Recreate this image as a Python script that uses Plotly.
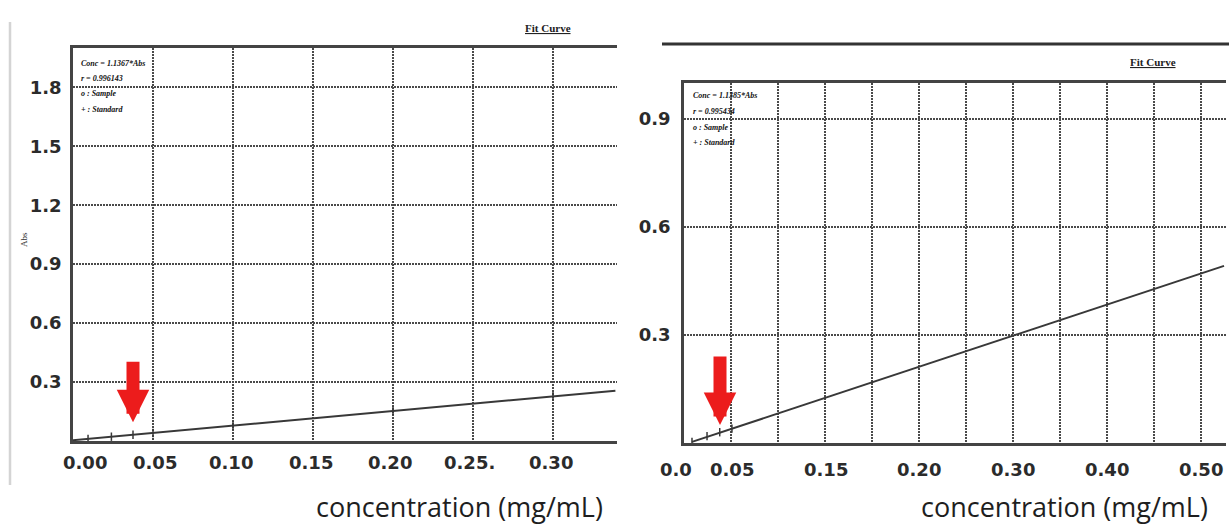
import plotly.graph_objects as go

W, H = 1229, 525

# ---------------- data: left chart ----------------
left_std_x = [0.0094, 0.024, 0.0375, 0.05, 0.10, 0.20, 0.30]
left_std_y = [0.011, 0.022, 0.032, 0.041, 0.079, 0.154, 0.228]
left_fit_x = [0.0, 0.339]
left_fit_y = [0.004, 0.256]
left_xgrid = [0.05, 0.10, 0.15, 0.20, 0.25, 0.30]
left_yticks = [0.3, 0.6, 0.9, 1.2, 1.5, 1.8]
left_ytext = ["0.3", "0.6", "0.9", "1.2", "1.5", "1.8"]
left_xlabel_pos = [0.0075, 0.0513, 0.0988, 0.149, 0.198, 0.248, 0.299]
left_xlabel_text = ["0.00", "0.05", "0.10", "0.15", "0.20", "0.25.", "0.30"]
left_arrow_tip = [0.0375, 0.096]
left_legend = ["Conc = 1.1367*Abs", "r = 0.996143", "o : Sample", "+ : Standard"]

# ---------------- data: right chart ----------------
right_std_x = [0.0085, 0.0245, 0.038, 0.051]
right_std_y = [0.003, 0.019, 0.030, 0.040]
right_fit_x = [0.0085, 0.5745]
right_fit_y = [0.003, 0.492]
right_xgrid = [0.05, 0.10, 0.15, 0.20, 0.25, 0.30, 0.35, 0.40, 0.45, 0.50, 0.55]
right_yticks = [0.3, 0.6, 0.9]
right_ytext = ["0.3", "0.6", "0.9"]
right_xlabel_pos = [-0.0085, 0.051, 0.151, 0.250, 0.350, 0.450, 0.550]
right_xlabel_text = ["0.0", "0.05", "0.15", "0.20", "0.30", "0.40", "0.50"]
right_arrow_tip = [0.0383, 0.05]
right_legend = ["Conc = 1.1385*Abs", "r = 0.995434", "o : Sample", "+ : Standard"]

x_title = "concentration (mg/mL)"

LINE = "#383838"
GRID = "#4a4a4a"
TICKFONT = dict(family="DejaVu Sans", size=18, color="#2b2b2b", weight="bold")

# axis geometry (domains in paper fraction, ranges in data units)
LX_DOM = [73 / W, 617 / W]
LX_RNG = [0, 544 / 1600]
RX_DOM = [684 / W, 1226 / W]
RX_RNG = [0, 542 / 940]

fig = go.Figure()

for xs, ys, fx, fy, xa, ya in [
    (left_std_x, left_std_y, left_fit_x, left_fit_y, "x", "y"),
    (right_std_x, right_std_y, right_fit_x, right_fit_y, "x2", "y2"),
]:
    fig.add_trace(go.Scatter(x=fx, y=fy, mode="lines", xaxis=xa, yaxis=ya,
                             line=dict(color=LINE, width=2), showlegend=False))
    fig.add_trace(go.Scatter(x=xs, y=ys, mode="markers", xaxis=xa, yaxis=ya,
                             marker=dict(symbol="line-ns", size=6,
                                         line=dict(color=LINE, width=1.5)),
                             showlegend=False))


def xax(domain, rng, grid, anchor):
    return dict(domain=domain, range=rng, tickvals=grid, showticklabels=False,
                ticks="", showgrid=True, gridcolor=GRID, gridwidth=1.6,
                griddash="2px,1px", showline=True, linecolor="#444",
                linewidth=2.5, mirror=True, zeroline=False, anchor=anchor,
                fixedrange=True)


def yax(domain, rng, vals, text, anchor, standoff):
    return dict(domain=domain, range=rng, tickvals=vals, ticktext=text,
                tickfont=TICKFONT, ticks="", ticklabelstandoff=standoff,
                showgrid=True, gridcolor=GRID, gridwidth=1.6,
                griddash="2px,1px", showline=True, linecolor="#444",
                linewidth=2.5, mirror=False, zeroline=False, anchor=anchor,
                fixedrange=True)


fig.update_layout(
    width=W, height=H,
    margin=dict(l=0, r=0, t=0, b=0),
    paper_bgcolor="white", plot_bgcolor="white",
    xaxis=xax(LX_DOM, LX_RNG, left_xgrid, "y"),
    yaxis=yax([84 / H, 477 / H], [0, 2.0], left_yticks, left_ytext, "x", 5),
    xaxis2=xax(RX_DOM, RX_RNG, right_xgrid, "y2"),
    yaxis2=yax([82 / H, 442 / H], [0, 1.0], right_yticks, right_ytext, "x2", 7),
)


def to_paper(v, dom, rng):
    return dom[0] + (v - rng[0]) / (rng[1] - rng[0]) * (dom[1] - dom[0])


ann = []
# x tick labels (placed along each axis, using the axis' own scale)
for pos, txt in zip(left_xlabel_pos, left_xlabel_text):
    ann.append(dict(x=to_paper(pos, LX_DOM, LX_RNG), y=(H - 462) / H, xref="paper",
                    yref="paper", text=txt, showarrow=False, font=TICKFONT,
                    xanchor="center", yanchor="middle"))
for pos, txt in zip(right_xlabel_pos, right_xlabel_text):
    ann.append(dict(x=to_paper(pos, RX_DOM, RX_RNG), y=(H - 469) / H, xref="paper",
                    yref="paper", text=txt, showarrow=False, font=TICKFONT,
                    xanchor="center", yanchor="middle"))

# x titles
for cx in [459, 1064]:
    ann.append(dict(x=cx / W, y=(H - 506) / H, xref="paper", yref="paper",
                    text=x_title, showarrow=False,
                    font=dict(family="Open Sans", size=27, color="#1e1e1e"),
                    xanchor="center", yanchor="middle"))

# Fit Curve labels
for cx, cy in [(548, 28), (1153, 62)]:
    ann.append(dict(x=cx / W, y=(H - cy) / H, xref="paper", yref="paper",
                    text="<b><u>Fit Curve</u></b>", showarrow=False,
                    font=dict(family="Liberation Serif", size=11, color="#222"),
                    xanchor="center", yanchor="middle"))

# in-plot legend texts
for lines, x0, y0 in [(left_legend, 79, 63), (right_legend, 691, 96)]:
    for i, t in enumerate(lines):
        ann.append(dict(x=x0 / W, y=(H - (y0 + i * 15.5)) / H, xref="paper", yref="paper",
                        text="<b><i>" + t + "</i></b>", showarrow=False,
                        font=dict(family="Liberation Serif", size=8, color="#111"),
                        xanchor="left", yanchor="middle"))

# Abs label
ann.append(dict(x=17 / W, y=(H - 240) / H, xref="paper", yref="paper", text="Abs",
                showarrow=False, textangle=-90,
                font=dict(family="Liberation Serif", size=9, color="#333")))

# red arrows
for tip, xa, ya, ay in [(left_arrow_tip, "x", "y", -62), (right_arrow_tip, "x2", "y2", -70)]:
    ann.append(dict(x=tip[0], y=tip[1], xref=xa, yref=ya, text="", showarrow=True,
                    ax=0, ay=ay, arrowhead=2, arrowsize=0.5, arrowwidth=13,
                    arrowcolor="#ec1c1c", standoff=0))

fig.update_layout(annotations=ann)

fig.update_layout(shapes=[
    dict(type="line", xref="paper", yref="paper", x0=10 / W, x1=10 / W,
         y0=(H - 22) / H, y1=(H - 485) / H, line=dict(color="#d4d4d4", width=2.5)),
    dict(type="line", xref="paper", yref="paper", x0=662 / W, x1=1.0,
         y0=(H - 44) / H, y1=(H - 44) / H, line=dict(color="#333", width=3)),
])

fig.write_html("out.html")
